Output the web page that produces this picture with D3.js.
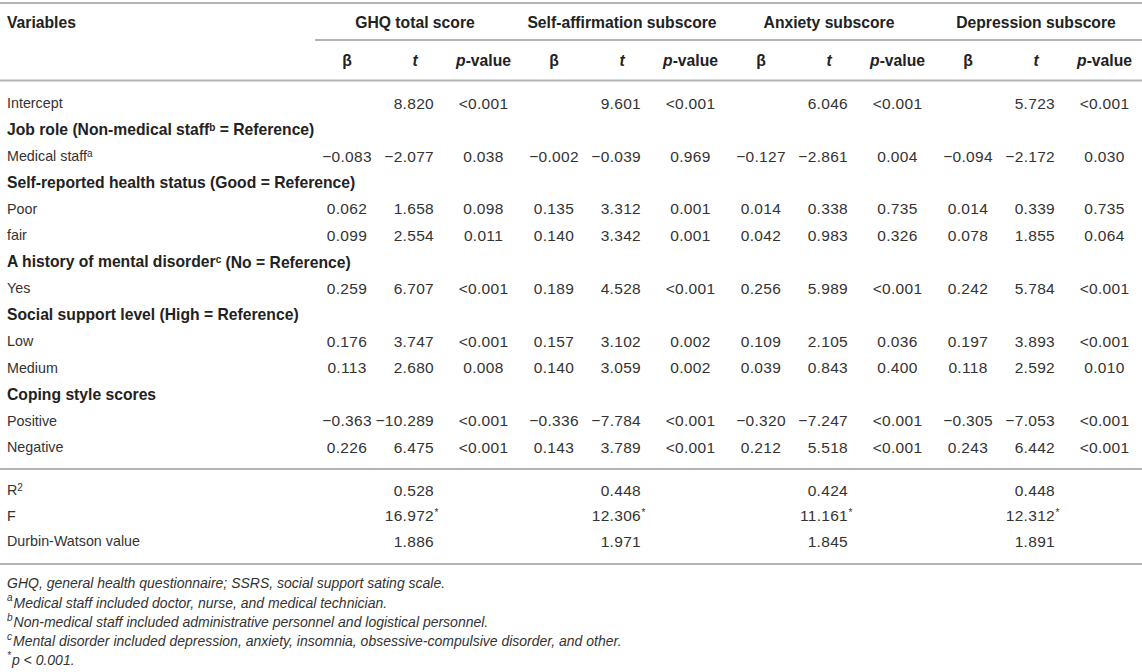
<!DOCTYPE html>
<html>
<head>
<meta charset="utf-8">
<script src="https://cdn.jsdelivr.net/npm/d3@7/dist/d3.min.js"></script>
<style>
  html, body { margin: 0; padding: 0; background: #fff; }
  svg { display: block; font-family: "Liberation Sans", Arial, Helvetica, sans-serif; }
  .txt { font-size: 14.3px; fill: #333; }
  .num { font-size: 15.5px; letter-spacing: 0.3px; fill: #333; }
  .bold { font-weight: bold; fill: #222; font-size: 15.7px; }
  .foot { font-size: 14px; font-style: italic; fill: #333; }
  .rule { stroke: #b4b4b4; stroke-width: 1.8; }
</style>
</head>
<body>
<svg id="chart" width="1142" height="672"></svg>
<script>
// ---------------- DATA ----------------
const groups = ["GHQ total score", "Self-affirmation subscore", "Anxiety subscore", "Depression subscore"];
const subHeads = ["β", "t", "p-value"];

// row labels: [text, superscript, isSectionHeader, text after superscript]
const rowLabels = [
  ["Intercept", "", false],
  ["Job role (Non-medical staff", "b", true, " = Reference)"],
  ["Medical staff", "a", false],
  ["Self-reported health status (Good = Reference)", "", true],
  ["Poor", "", false],
  ["fair", "", false],
  ["A history of mental disorder", "c", true, " (No = Reference)"],
  ["Yes", "", false],
  ["Social support level (High = Reference)", "", true],
  ["Low", "", false],
  ["Medium", "", false],
  ["Coping style scores", "", true],
  ["Positive", "", false],
  ["Negative", "", false]
];

// each row: β, t, p for GHQ, Self-affirmation, Anxiety, Depression
const intercept = ["", "8.820", "<0.001", "", "9.601", "<0.001", "", "6.046", "<0.001", "", "5.723", "<0.001"];
const medicalStaff = ["−0.083", "−2.077", "0.038", "−0.002", "−0.039", "0.969", "−0.127", "−2.861", "0.004", "−0.094", "−2.172", "0.030"];
const poor = ["0.062", "1.658", "0.098", "0.135", "3.312", "0.001", "0.014", "0.338", "0.735", "0.014", "0.339", "0.735"];
const fair = ["0.099", "2.554", "0.011", "0.140", "3.342", "0.001", "0.042", "0.983", "0.326", "0.078", "1.855", "0.064"];
const historyYes = ["0.259", "6.707", "<0.001", "0.189", "4.528", "<0.001", "0.256", "5.989", "<0.001", "0.242", "5.784", "<0.001"];
const supportLow = ["0.176", "3.747", "<0.001", "0.157", "3.102", "0.002", "0.109", "2.105", "0.036", "0.197", "3.893", "<0.001"];
const supportMedium = ["0.113", "2.680", "0.008", "0.140", "3.059", "0.002", "0.039", "0.843", "0.400", "0.118", "2.592", "0.010"];
const copingPositive = ["−0.363", "−10.289", "<0.001", "−0.336", "−7.784", "<0.001", "−0.320", "−7.247", "<0.001", "−0.305", "−7.053", "<0.001"];
const copingNegative = ["0.226", "6.475", "<0.001", "0.143", "3.789", "<0.001", "0.212", "5.518", "<0.001", "0.243", "6.442", "<0.001"];

const rSquared = ["0.528", "0.448", "0.424", "0.448"];
const fValue = ["16.972", "12.306", "11.161", "12.312"];
const durbinWatson = ["1.886", "1.971", "1.845", "1.891"];

const footnotes = [
  ["", "GHQ, general health questionnaire; SSRS, social support sating scale."],
  ["a", "Medical staff included doctor, nurse, and medical technician."],
  ["b", "Non-medical staff included administrative personnel and logistical personnel."],
  ["c", "Mental disorder included depression, anxiety, insomnia, obsessive-compulsive disorder, and other."],
  ["*", "p < 0.001."]
];

// row index -> data row
const dataRows = { 0: intercept, 2: medicalStaff, 4: poor, 5: fair, 7: historyYes, 9: supportLow, 10: supportMedium, 12: copingPositive, 13: copingNegative };

// ---------------- LAYOUT ----------------
const W = 1142;
const svg = d3.select("#chart");

const groupX = d3.scaleLinear().domain([0, 3]).range([0, 621]);
const colPos = { beta: 347, tHead: 415, tRight: 434, p: 483.5 };
const rowY = d3.scaleLinear().domain([0, 13]).range([103, 447]);
const sumY = d3.scaleLinear().domain([0, 2]).range([490, 541]);
const footY = d3.scaleLinear().domain([0, 4]).range([583, 660]);

const yTopRule = 3, yGroupText = 22, yGroupRule = 40, ySubText = 60, yHeadRule = 80.5, yBodyRule = 469, ySumRule = 564;

// rules
const rules = [[0, yTopRule], [315, yGroupRule], [0, yHeadRule], [0, yBodyRule], [0, ySumRule]];
svg.selectAll("line.rule").data(rules).join("line")
  .attr("class", "rule")
  .attr("x1", d => d[0]).attr("x2", W)
  .attr("y1", d => d[1]).attr("y2", d => d[1]);

const dy = "0.36em";

// header
svg.append("text").attr("class", "bold").attr("x", 7).attr("y", yGroupText).attr("dy", dy).text("Variables");

svg.selectAll("text.grp").data(groups).join("text")
  .attr("class", "bold grp")
  .attr("x", (d, i) => groupX(i) + colPos.tHead)
  .attr("y", yGroupText).attr("dy", dy)
  .attr("text-anchor", "middle")
  .text(d => d);

groups.forEach((g, gi) => {
  const gx = groupX(gi);
  svg.append("text").attr("class", "bold").attr("x", gx + colPos.beta).attr("y", ySubText).attr("dy", dy)
    .attr("text-anchor", "middle").text(subHeads[0]);
  svg.append("text").attr("class", "bold").attr("x", gx + colPos.tHead).attr("y", ySubText).attr("dy", dy)
    .attr("text-anchor", "middle").style("font-style", "italic").text(subHeads[1]);
  const pt = svg.append("text").attr("class", "bold").attr("x", gx + colPos.p).attr("y", ySubText).attr("dy", dy)
    .attr("text-anchor", "middle");
  pt.append("tspan").style("font-style", "italic").text(subHeads[2].slice(0, 1));
  pt.append("tspan").text(subHeads[2].slice(1));
});

// row labels
rowLabels.forEach((r, i) => {
  const t = svg.append("text").attr("class", r[2] ? "bold" : "txt")
    .attr("x", 7).attr("y", rowY(i)).attr("dy", dy);
  t.append("tspan").text(r[0]);
  if (r[1]) t.append("tspan").attr("dy", "-0.45em").style("font-size", "10px").text(r[1]);
  if (r[3]) t.append("tspan").attr("dy", "0.3em").text(r[3]);
});

// data cells
Object.keys(dataRows).forEach(k => {
  const vals = dataRows[k];
  const y = rowY(+k);
  vals.forEach((v, j) => {
    if (!v) return;
    const gi = Math.floor(j / 3), c = j % 3;
    const gx = groupX(gi);
    let x, anchor;
    if (c === 0) { x = gx + colPos.beta; anchor = "middle"; }
    else if (c === 1) { x = gx + colPos.tRight; anchor = "end"; }
    else { x = gx + colPos.p; anchor = "middle"; }
    svg.append("text").attr("class", "num").attr("x", x).attr("y", y).attr("dy", dy)
      .attr("text-anchor", anchor).text(v);
  });
});

// summary rows
const sumRows = [["R", "2", rSquared, false], ["F", "", fValue, true], ["Durbin-Watson value", "", durbinWatson, false]];
sumRows.forEach((r, i) => {
  const y = sumY(i);
  const t = svg.append("text").attr("class", "txt").attr("x", 7).attr("y", y).attr("dy", dy);
  t.append("tspan").text(r[0]);
  if (r[1]) t.append("tspan").attr("dy", "-0.45em").style("font-size", "10px").text(r[1]);
  r[2].forEach((v, gi) => {
    const x = groupX(gi) + colPos.tRight;
    svg.append("text").attr("class", "num").attr("x", x).attr("y", y).attr("dy", dy)
      .attr("text-anchor", "end").text(v);
    if (r[3]) {
      svg.append("text").attr("class", "txt").attr("x", x + 0.5).attr("y", y).attr("dy", "0.05em")
        .style("font-size", "10px").text("*");
    }
  });
});

// footnotes
footnotes.forEach((f, i) => {
  const t = svg.append("text").attr("class", "foot").attr("x", 7).attr("y", footY(i)).attr("dy", dy);
  if (f[0]) t.append("tspan").attr("dy", "-0.1em").style("font-size", "10px").text(f[0]);
  t.append("tspan").attr("dy", f[0] ? "0.46em" : dy).attr("dx", f[0] ? 1 : 0).text(f[1]);
});
</script>
</body>
</html>
